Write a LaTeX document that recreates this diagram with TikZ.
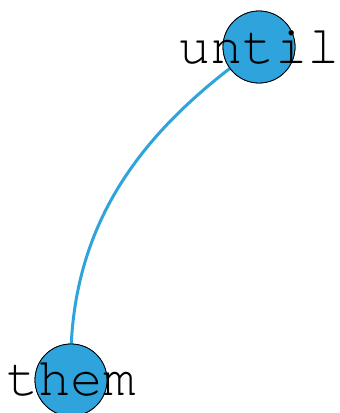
\documentclass[tikz,border=0pt]{standalone}
\usepackage{fontspec}
\newfontfamily\wordfont{TeX Gyre Cursor}
\usetikzlibrary{positioning}
\definecolor{wordblue}{RGB}{46,163,220}
\tikzset{
  word/.style={
    shape = circle,
    draw,
    fill = wordblue,
    thick,
    minimum size = 72pt,
    inner sep = 0pt
  },
  wordlabel/.style={
    font = \fontsize{54}{54}\selectfont\wordfont,
    inner sep = 0pt
  },
  link/.style={
    draw = wordblue,
    line width = 3pt
  }
}
\begin{document}
\begin{tikzpicture}[x=1pt,y=-1pt]
    \useasboundingbox (0,0) rectangle (340,413);
    \node[word] (until) at (259,47) {};
    \node[word] (them) at (71,380) {};
    \draw[link] (them.center) to[out=92, in=215] (until.center);
    \node[word] at (until) {};
    \node[word] at (them) {};
    \node[wordlabel] (untiltext) at (until) {until};
    \node[wordlabel] (themtext) at (them) {them};
\end{tikzpicture}
\end{document}
